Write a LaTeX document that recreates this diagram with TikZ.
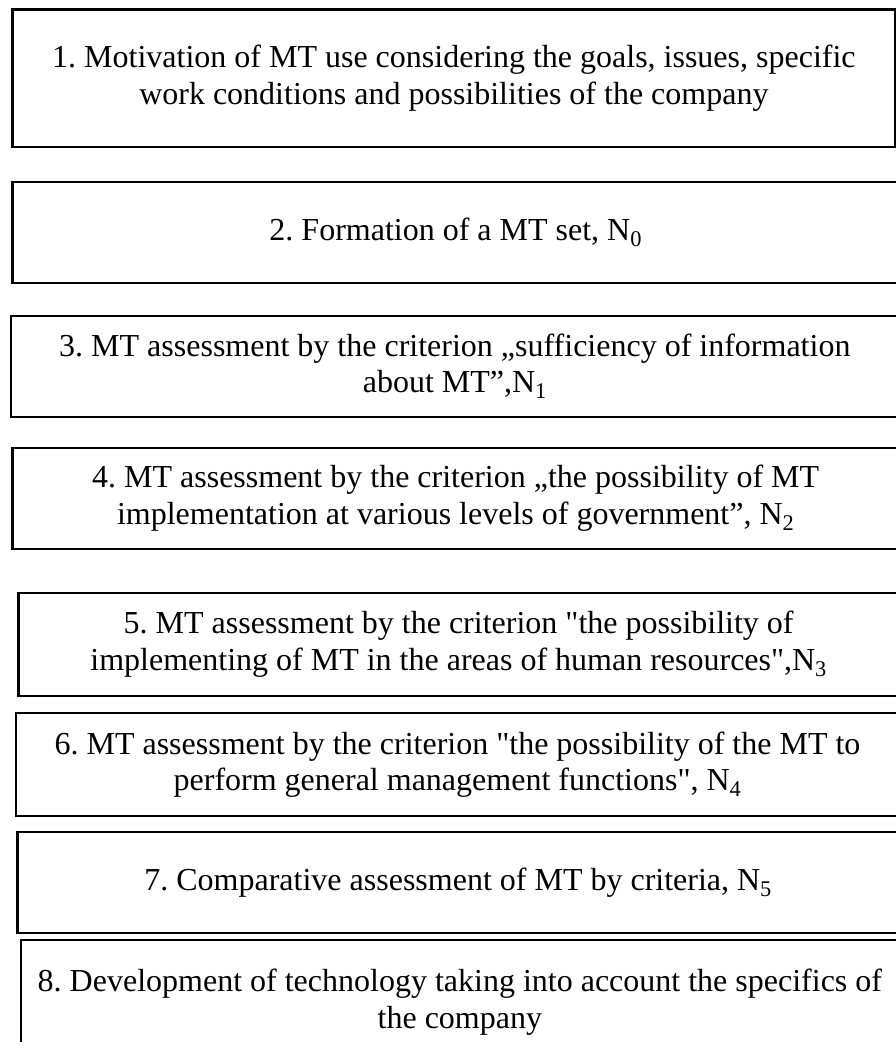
\documentclass[tikz,border=0pt]{standalone}
\usepackage{fontspec}
\setmainfont{Liberation Serif}
\frenchspacing
\begin{document}
\begin{tikzpicture}[x=1pt,y=-1pt,
  box/.style={draw=black, line width=2.4pt, align=center, inner sep=0pt,
              font=\fontsize{32}{36.5}\selectfont\frenchspacing}]
\useasboundingbox (0,0) rectangle (896,1042);
\node[box, minimum width=882.8pt, minimum height=137.4pt] (b1) at (453.9,78)
  {1. Motivation of MT use considering the goals, issues, specific\\work conditions and possibilities of the company};
\node[box, minimum width=886.5pt, minimum height=101.3pt] (b2) at (455.75,232.35)
  {2. Formation of a MT set, N\textsubscript{0}};
\node[box, minimum width=888.3pt, minimum height=101.3pt] (b3) at (454.85,366.35)
  {3. MT assessment by the criterion „sufficiency of information\\about MT”,N\textsubscript{1}};
\node[box, minimum width=886.7pt, minimum height=101.3pt] (b4) at (455.65,498.35)
  {4. MT assessment by the criterion „the possibility of MT\\implementation at various levels of government”, N\textsubscript{2}};
\node[box, minimum width=880.7pt, minimum height=102.7pt] (b5) at (458.65,644.35)
  {5. MT assessment by the criterion \textquotedbl the possibility of\\implementing of MT in the areas of human resources\textquotedbl,N\textsubscript{3}};
\node[box, minimum width=883pt, minimum height=103pt] (b6) at (457.5,764.5)
  {6. MT assessment by the criterion \textquotedbl the possibility of the MT to\\perform general management functions\textquotedbl, N\textsubscript{4}};
\node[box, minimum width=881.7pt, minimum height=101pt] (b7) at (458.15,882.5)
  {7. Comparative assessment of MT by criteria, N\textsubscript{5}};
\node[box, minimum width=878.3pt, minimum height=124pt] (b8) at (459.85,1002)
  {8. Development of technology taking into account the specifics of\\the company};
\end{tikzpicture}
\end{document}
